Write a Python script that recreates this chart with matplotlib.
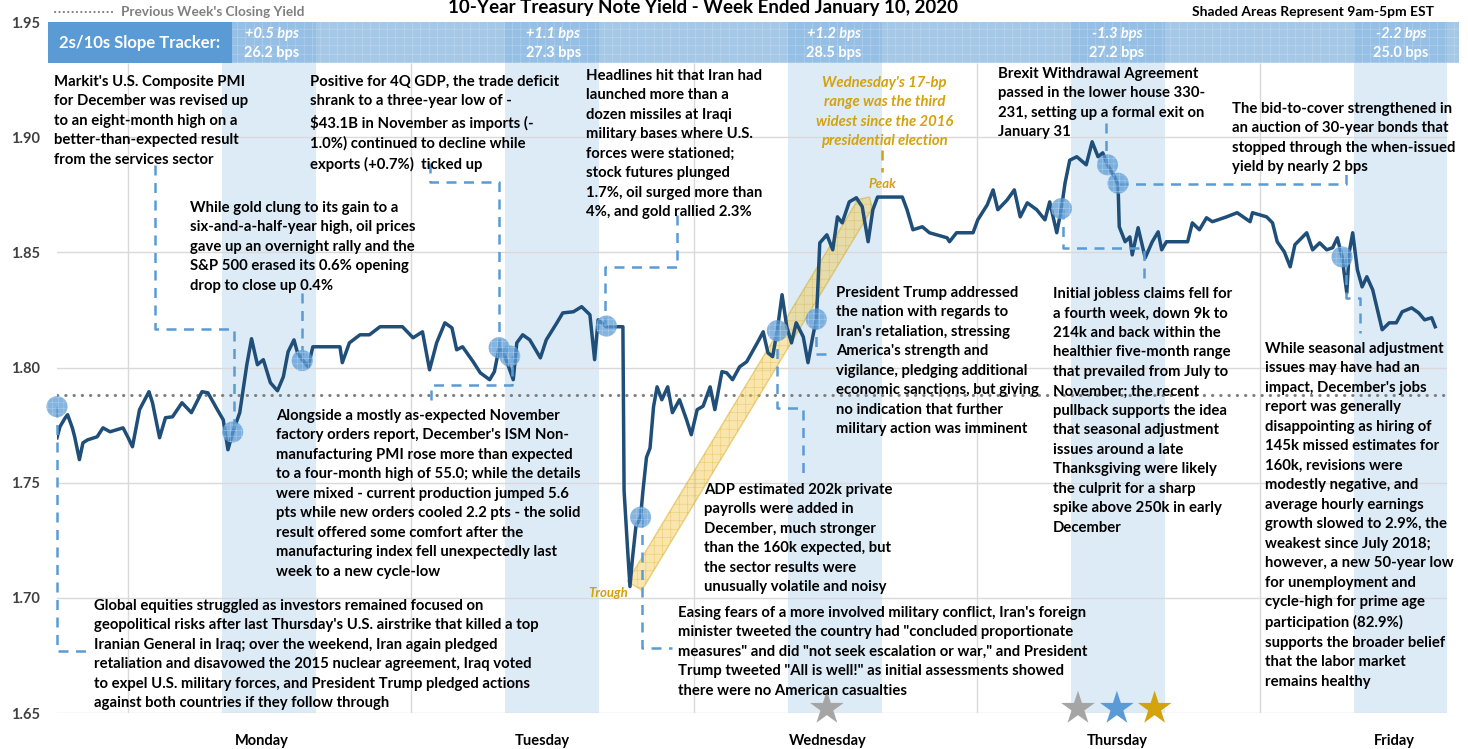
import matplotlib.pyplot as plt
from matplotlib.patches import Rectangle, FancyArrowPatch
from matplotlib.lines import Line2D

plt.rcParams['font.family'] = ['Lato', 'DejaVu Sans']
plt.rcParams['hatch.linewidth'] = 0.35

# hours since Monday 00:00 EST and 10-year yield (%)
hours = [-5.0, -4.75, -4.3, -4.1, -3.7, -3.5, -3.1, -2.8, -2.4, -1.6, -1.1, -0.5, 0.6, 1.0, 1.4,
         2.0, 2.8, 3.1, 3.7, 4.2, 4.8, 5.6, 6.4, 7.3, 7.8, 8.6, 9.1, 9.5, 9.9, 10.5, 11.1, 11.5,
         12.0, 12.5, 13.1, 13.7, 14.2, 14.6, 15.1, 15.4, 15.8, 16.3, 16.7, 19.0, 19.2, 19.8, 20.7,
         21.5, 22.4, 23.2, 24.3, 25.2, 26.0, 26.6, 27.2, 27.9, 28.5, 28.9, 29.4, 30.3, 30.9, 31.7,
         32.1, 32.5, 33.0, 33.7, 34.0, 34.5, 35.1, 36.0, 36.5, 37.4, 37.9, 38.8, 39.5, 40.2, 40.6,
         40.9, 41.6, 43.0, 43.1, 43.4, 43.6, 43.8, 44.1, 44.5, 44.7, 45.0, 45.3, 45.6, 45.9, 46.3,
         46.8, 47.2, 47.8, 48.4, 48.8, 49.3, 49.8, 50.4, 50.8, 51.4, 51.8, 52.3, 52.9, 53.5, 54.4,
         54.9, 55.3, 55.7, 56.1, 56.5, 56.9, 57.3, 57.7, 58.3, 58.7, 59.1, 59.4, 59.5, 59.7, 60.3,
         60.8, 61.2, 61.6, 62.2, 62.8, 63.3, 63.8, 64.2, 64.6, 66.7, 67.1, 67.6, 68.4, 69.0, 70.5,
         70.7, 71.3, 72.7, 73.1, 73.9, 74.4, 74.8, 75.6, 76.2, 76.7, 77.3, 78.1, 78.8, 79.2, 79.8,
         80.2, 80.5, 80.9, 81.5, 82.3, 82.8, 83.3, 83.7, 84.1, 84.7, 85.0, 85.1, 85.6, 86.0, 86.2,
         86.7, 87.3, 87.9, 88.4, 88.7, 89.1, 90.9, 91.3, 91.9, 92.5, 93.0, 94.2, 95.1, 96.2, 96.4,
         97.6, 98.1, 98.5, 99.1, 99.6, 100.0, 101.0, 101.5, 102.1, 102.7, 103.2, 103.6, 104.0,
         104.4, 104.6, 104.9, 105.3, 105.7, 106.1, 106.6, 107.0, 107.4, 108.0, 108.6, 109.1,
         109.9, 110.5, 111.0, 111.6, 111.9]
yields = [1.7695, 1.7743, 1.7782, 1.7795, 1.7738, 1.7699, 1.760, 1.7673, 1.7686, 1.7699, 1.7738,
          1.7721, 1.7738, 1.7699, 1.7656, 1.7817, 1.7895, 1.7847, 1.7695, 1.7782, 1.7786, 1.7847,
          1.7804, 1.7895, 1.789, 1.7817, 1.7773, 1.7643, 1.7717, 1.7804, 1.8012, 1.8125, 1.8012,
          1.8034, 1.7934, 1.7899, 1.796, 1.8068, 1.812, 1.8064, 1.8034, 1.8003, 1.809, 1.809,
          1.8021, 1.8107, 1.8142, 1.8142, 1.8177, 1.8177, 1.8177, 1.8129, 1.8155, 1.799, 1.8107,
          1.8194, 1.8172, 1.8077, 1.809, 1.8025, 1.7977, 1.7947, 1.7982, 1.8086, 1.8047, 1.7947,
          1.8107, 1.8142, 1.812, 1.8042, 1.812, 1.8194, 1.8237, 1.8242, 1.8264, 1.8229, 1.8034,
          1.8207, 1.8177, 1.8177, 1.7465, 1.7209, 1.7049, 1.7166, 1.7309, 1.7352, 1.7464, 1.761,
          1.765, 1.783, 1.7916, 1.786, 1.7916, 1.7804, 1.786, 1.7773, 1.7708, 1.7817, 1.7832,
          1.7916, 1.7817, 1.7982, 1.7977, 1.7947, 1.8003, 1.8025, 1.8107, 1.8155, 1.8064, 1.8047,
          1.8164, 1.8316, 1.8177, 1.8107, 1.8194, 1.8133, 1.8021, 1.8133, 1.8207, 1.8307, 1.8541,
          1.8576, 1.8511, 1.8654, 1.8628, 1.8719, 1.8737, 1.8698, 1.8546, 1.8685, 1.874, 1.874,
          1.8685, 1.8598, 1.8611, 1.8585, 1.8563, 1.8546, 1.8585, 1.8585, 1.8641, 1.8706, 1.8771,
          1.8685, 1.8728, 1.8771, 1.8654, 1.8715, 1.8685, 1.8641, 1.8719, 1.8585, 1.8693, 1.880,
          1.890, 1.8915, 1.888, 1.898, 1.8915, 1.8932, 1.888, 1.8828, 1.8793, 1.8611, 1.8546,
          1.8567, 1.8489, 1.8607, 1.8476, 1.8546, 1.8589, 1.8511, 1.8546, 1.8546, 1.8628, 1.8598,
          1.865, 1.8633, 1.8654, 1.8672, 1.8633, 1.8672, 1.8654, 1.8628, 1.8546, 1.8502, 1.8437,
          1.8533, 1.8585, 1.8511, 1.8541, 1.8511, 1.852, 1.8563, 1.848, 1.8324, 1.8498, 1.8585,
          1.8424, 1.835, 1.8394, 1.8337, 1.825, 1.8164, 1.8194, 1.8194, 1.8242, 1.8259, 1.8237,
          1.8207, 1.8216, 1.8177]

event_hours = [-5.0, 9.9, 15.8, 32.5, 33.4, 41.6, 44.5, 56.1, 59.4, 80.2, 84.1, 85.0, 104.0]
event_yields = [1.783, 1.772, 1.803, 1.8086, 1.805, 1.818, 1.735, 1.816, 1.821, 1.869, 1.888, 1.880, 1.848]

prev_close = 1.788
trough = (44.0, 1.7052)
peak = (63.9, 1.874)

days = ['Monday', 'Tuesday', 'Wednesday', 'Thursday', 'Friday']
day_label_hours = [12.4, 36.2, 60.4, 84.9, 108.4]
slope_change = ['+0.5 bps', '+1.1 bps', '+1.2 bps', '-1.3 bps', '-2.2 bps']
slope_level = ['26.2 bps', '27.3 bps', '28.5 bps', '27.2 bps', '25.0 bps']
slope_hours = [13.2, 37.1, 60.9, 84.9, 109.0]
star_hours = [60.3, 81.6, 84.9, 88.1]
star_colors = ['#A5A5A5', '#A5A5A5', '#5B9BD5', '#D4A20A']

BLUE = '#5B9BD5'
GOLD = '#D4A20A'

fig = plt.figure(figsize=(14.68, 7.49), dpi=100)
ax = fig.add_axes([57 / 1468, 36 / 749, 1390 / 1468, 691 / 749])
ax.set_xlim(-5, 112.9)
ax.set_ylim(1.65, 1.95)

# shaded 9am-5pm sessions
for k in range(5):
    ax.axvspan(9 + 24 * k, 17 + 24 * k, color='#DDEBF7', lw=0, zorder=0)
for t in [1.65, 1.70, 1.75, 1.80, 1.85, 1.90]:
    ax.axhline(t, color='#D9D9D9', lw=1, zorder=0.5)
ax.vlines([1 + 24 * k for k in range(5)], 1.65, 1.932, color='#D9D9D9', lw=1, zorder=0.5)

for s in ax.spines.values():
    s.set_visible(False)
ax.set_xticks([])
ax.set_yticks([1.65, 1.70, 1.75, 1.80, 1.85, 1.90, 1.95])
ax.set_yticklabels(['%.2f' % v for v in ax.get_yticks()], fontsize=10.5, color='#404040',
                   fontweight='bold')
ax.tick_params(axis='y', length=0, pad=12)

ax.axhline(prev_close, color='#7F7F7F', lw=2.2, ls=(0, (0.1, 2.6)), dash_capstyle='round', zorder=1)

# trough to peak band
arr = FancyArrowPatch(trough, peak, arrowstyle='simple,head_length=0.7,head_width=1.5,tail_width=1.1',
                      mutation_scale=11, fc='#F2C94C', ec=GOLD, alpha=0.45, lw=1, hatch='++',
                      shrinkA=0, shrinkB=0, zorder=2)
ax.add_patch(arr)

ax.plot(hours, yields, color='#1F4E79', lw=2.5, zorder=3, solid_joinstyle='round')
ax.scatter(event_hours, event_yields, s=230, color=BLUE, alpha=0.75, edgecolor='#BDD7EE',
           lw=0, hatch='+++', zorder=5, clip_on=False)

# connector lines (dashed)
dash = dict(color=BLUE, lw=1.8, ls=(0, (4, 3)), zorder=4)
ax.plot([3.3, 3.3, 10.0, 10.0], [1.888, 1.8168, 1.8168, 1.772], **dash)
ax.plot([15.8, 15.8], [1.8324, 1.803], **dash)
ax.plot([26.6, 26.6, 32.5, 32.5], [1.8889, 1.8806, 1.8806, 1.8086], **dash)
ax.plot([26.7, 26.7, 33.6, 33.6], [1.786, 1.7925, 1.7925, 1.805], **dash)
ax.plot([47.6, 47.6, 41.5, 41.5], [1.8663, 1.8437, 1.8437, 1.818], **dash)
ax.plot([44.6, 44.6, 47.2], [1.735, 1.6784, 1.6784], **dash)
ax.plot([56.1, 56.1, 58.3, 58.3], [1.816, 1.7825, 1.7825, 1.7535], **dash)
ax.plot([59.4, 59.4, 60.5], [1.821, 1.806, 1.806], **dash)
ax.plot([84.0, 84.0], [1.9062, 1.888], **dash)
ax.plot([85.0, 104.3, 104.3], [1.8797, 1.8797, 1.8845], **dash)
ax.plot([80.3, 80.3, 87.2, 87.2], [1.869, 1.852, 1.852, 1.8381], **dash)
ax.plot([104.3, 104.3, 105.5, 105.5], [1.848, 1.8303, 1.8303, 1.815], **dash)
ax.plot([-5.0, -5.0, -2.4], [1.783, 1.677, 1.677], clip_on=False, **dash)
ax.plot([65.0, 65.0], [1.8945, 1.8849], color=GOLD, lw=1.8, ls=(0, (4, 3)), zorder=4)

# slope tracker band
ax.add_patch(Rectangle((-0.0065, 0.9407), 0.1324, 0.0593, transform=ax.transAxes,
                       color=BLUE, lw=0, clip_on=False, zorder=6))
ax.add_patch(Rectangle((0.1259, 0.9407), 0.8827, 0.0593, transform=ax.transAxes,
                       fc=BLUE, alpha=0.55, ec='#DDEBF7', lw=0, hatch='++', clip_on=False, zorder=6))
ax.text(0.0597, 0.970, '2s/10s Slope Tracker:', transform=ax.transAxes, ha='center', va='center',
        color='white', fontsize=12, fontweight='bold', zorder=7)
xa = ax.get_xaxis_transform()
for h, c, lv in zip(slope_hours, slope_change, slope_level):
    ax.text(h, 0.982, c, transform=xa, ha='center', va='center', color='white', fontsize=10.5,
            fontweight='bold', style='italic', zorder=7)
    ax.text(h, 0.955, lv, transform=xa, ha='center', va='center', color='white', fontsize=10.5,
            fontweight='bold', zorder=7)

for d, h in zip(days, day_label_hours):
    ax.text(h, -0.041, d, transform=xa, ha='center', va='center', fontsize=10.5, fontweight='bold')

ax.scatter(star_hours, [1.652] * 4, marker='*', s=650, c=star_colors, lw=0, zorder=6, clip_on=False)

# annotations (anchored at top-left of each block)
note = dict(fontsize=10.7, fontweight='bold', va='top', ha='left', linespacing=1.5, zorder=7)
dy = 0.0013
notes = [
    (-5.26, 1.9284, "Markit's U.S. Composite PMI\nfor December was revised up\nto an eight-month high on a\n"
                    "better-than-expected result\nfrom the services sector"),
    (16.45, 1.9284, "Positive for 4Q GDP, the trade deficit\nshrank to a three-year low of -\n"
                    "$43.1B in November as imports (-\n1.0%) continued to decline while\nexports (+0.7%)  ticked up"),
    (39.9, 1.931, "Headlines hit that Iran had\nlaunched more than a\ndozen missiles at Iraqi\n"
                  "military bases where U.S.\nforces were stationed;\nstock futures plunged\n"
                  "1.7%, oil surged more than\n4%, and gold rallied 2.3%"),
    (74.8, 1.9318, "Brexit Withdrawal Agreement\npassed in the lower house 330-\n"
                   "231, setting up a formal exit on\nJanuary 31"),
    (94.7, 1.9166, "The bid-to-cover strengthened in\nan auction of 30-year bonds that\n"
                   "stopped through the when-issued\nyield by nearly 2 bps"),
    (6.3, 1.8737, "While gold clung to its gain to a\nsix-and-a-half-year high, oil prices\n"
                  "gave up an overnight rally and the\nS&P 500 erased its 0.6% opening\ndrop to close up 0.4%"),
    (13.6, 1.7834, "Alongside a mostly as-expected November\nfactory orders report, December's ISM Non-\n"
                   "manufacturing PMI rose more than expected\nto a four-month high of 55.0; while the details\n"
                   "were mixed - current production jumped 5.6\npts while new orders cooled 2.2 pts - the solid\n"
                   "result offered some comfort after the\nmanufacturing index fell unexpectedly last\n"
                   "week to a new cycle-low"),
    (61.1, 1.8368, "President Trump addressed\nthe nation with regards to\nIran's retaliation, stressing\n"
                   "America's strength and\nvigilance, pledging additional\neconomic sanctions, but giving\n"
                   "no indication that further\nmilitary action was imminent"),
    (79.5, 1.8363, "Initial jobless claims fell for\na fourth week, down 9k to\n214k and back within the\n"
                   "healthier five-month range\nthat prevailed from July to\nNovember; the recent\n"
                   "pullback supports the idea\nthat seasonal adjustment\nissues around a late\n"
                   "Thanksgiving were likely\nthe culprit for a sharp\nspike above 250k in early\nDecember"),
    (97.5, 1.8125, "While seasonal adjustment\nissues may have had an\nimpact, December's jobs\n"
                   "report was generally\ndisappointing as hiring of\n145k missed estimates for\n"
                   "160k, revisions were\nmodestly negative, and\naverage hourly earnings\n"
                   "growth slowed to 2.9%, the\nweakest since July 2018;\nhowever, a new 50-year low\n"
                   "for unemployment and\ncycle-high for prime age\nparticipation (82.9%)\n"
                   "supports the broader belief\nthat the labor market\nremains healthy"),
    (49.9, 1.7513, "ADP estimated 202k private\npayrolls were added in\nDecember, much stronger\n"
                   "than the 160k expected, but\nthe sector results were\nunusually volatile and noisy"),
    (47.7, 1.6979, "Easing fears of a more involved military conflict, Iran's foreign\n"
                   "minister tweeted the country had \"concluded proportionate\n"
                   "measures\" and did \"not seek escalation or war,\" and President\n"
                   "Trump tweeted \"All is well!\" as initial assessments showed\n"
                   "there were no American casualties"),
    (-1.9, 1.7009, "Global equities struggled as investors remained focused on\n"
                   "geopolitical risks after last Thursday's U.S. airstrike that killed a top\n"
                   "Iranian General in Iraq; over the weekend, Iran again pledged\n"
                   "retaliation and disavowed the 2015 nuclear agreement, Iraq voted\n"
                   "to expel U.S. military forces, and President Trump pledged actions\n"
                   "against both countries if they follow through"),
]
for x, y, txt in notes:
    ax.text(x, y - dy, txt, **note)

ax.text(65.2, 1.928 - dy, "Wednesday's 17-bp\nrange was the third\nwidest since the 2016\npresidential election",
        ha='center', va='top', color=GOLD, fontsize=10.7, fontweight='bold', style='italic',
        linespacing=1.5, zorder=7)
ax.text(65.0, 1.8797, 'Peak', ha='center', va='center', color=GOLD, fontsize=9.5,
        fontweight='bold', style='italic', zorder=7)
ax.text(43.4, 1.7022, 'Trough', ha='right', va='center', color=GOLD, fontsize=9.5,
        fontweight='bold', style='italic', zorder=7)

# header
fig.text(703 / 1468, 1 - 7 / 749, '10-Year Treasury Note Yield - Week Ended January 10, 2020',
         ha='center', va='center', fontsize=13.5, fontweight='bold')
fig.add_artist(Line2D([55 / 1468, 115 / 1468], [1 - 12 / 749] * 2, color='#7F7F7F', lw=1.5,
                      ls=(0, (0.1, 2)), dash_capstyle='round'))
fig.text(121 / 1468, 1 - 12 / 749, "Previous Week's Closing Yield", ha='left', va='center',
         fontsize=9.8, fontweight='bold', color='#808080')
fig.text(1192 / 1468, 1 - 12 / 749, 'Shaded Areas Represent 9am-5pm EST', ha='left', va='center',
         fontsize=10, fontweight='bold')

fig.savefig('out.png', dpi=100)
